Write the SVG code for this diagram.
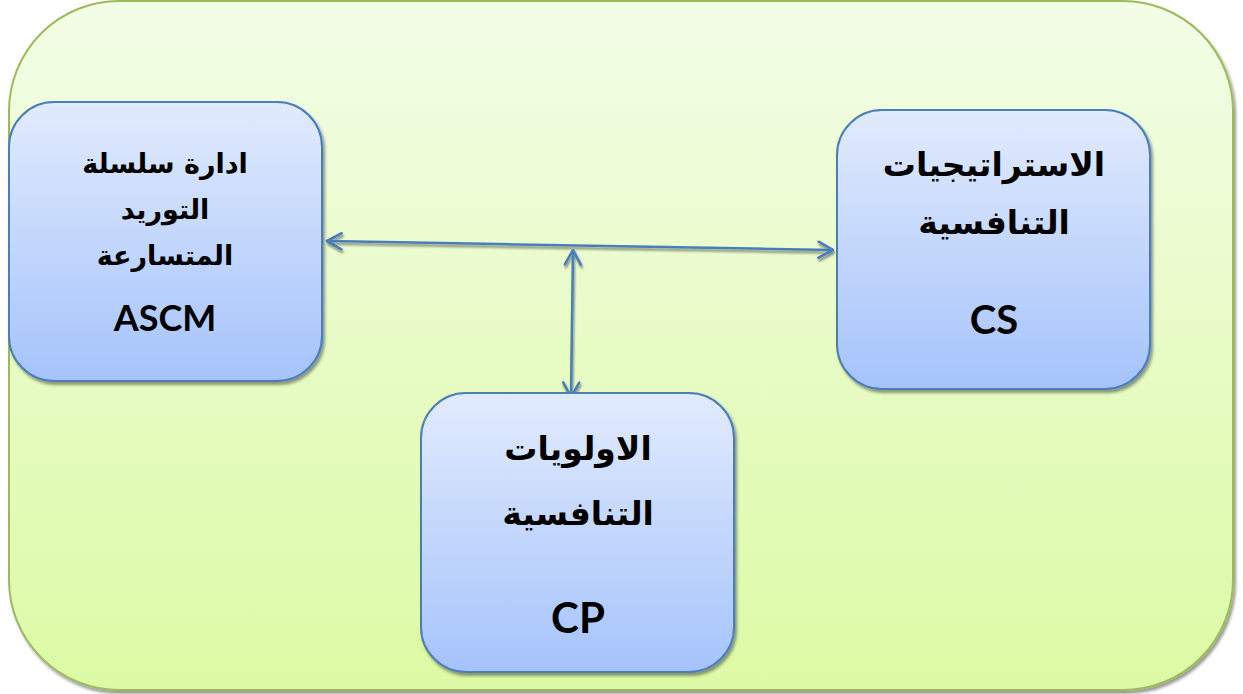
<svg xmlns="http://www.w3.org/2000/svg" width="1243" height="694" viewBox="0 0 1243 694">
  <defs>
    <linearGradient id="bgGrad" x1="0" y1="0" x2="0" y2="1">
      <stop offset="0" stop-color="#f3fde7"/>
      <stop offset="1" stop-color="#dcfaa4"/>
    </linearGradient>
    <linearGradient id="boxGrad" x1="0" y1="0" x2="0" y2="1">
      <stop offset="0" stop-color="#e1ebfd"/>
      <stop offset="1" stop-color="#a5c3fb"/>
    </linearGradient>
    <filter id="shadow" x="-10%" y="-10%" width="125%" height="125%">
      <feDropShadow dx="2" dy="3" stdDeviation="1.5" flood-color="#000" flood-opacity="0.4"/>
    </filter>
    <filter id="lineShadow" x="-5%" y="-50%" width="110%" height="200%">
      <feDropShadow dx="1" dy="2.5" stdDeviation="0.8" flood-color="#000" flood-opacity="0.45"/>
    </filter>
    <marker id="chev" viewBox="0 0 18 20" refX="16.5" refY="10" markerWidth="18" markerHeight="20" markerUnits="userSpaceOnUse" orient="auto-start-reverse">
      <path d="M2 2 L16.5 10 L2 18" fill="none" stroke="#4a7ebb" stroke-width="2.6" stroke-linecap="round" stroke-linejoin="round"/>
    </marker>
    <style>
      .box { fill: url(#boxGrad); stroke: #4a7ebb; stroke-width: 2; filter: url(#shadow); }
      .ar { font-family: "DejaVu Sans", sans-serif; font-weight: bold; fill: #000; text-anchor: middle; direction: rtl; }
      .lat { font-family: Lato, "Open Sans", sans-serif; font-weight: bold; fill: #000; text-anchor: middle; }
      .conn { stroke: #4a7ebb; stroke-width: 2.5; fill: none; marker-start: url(#chev); marker-end: url(#chev); }
    </style>
  </defs>

  <!-- outer container -->
  <rect x="9" y="1" width="1224" height="689" rx="110" ry="110" fill="url(#bgGrad)" stroke="#9bbb59" stroke-width="2" filter="url(#shadow)"/>

  <!-- connectors -->
  <g id="connectors" filter="url(#lineShadow)">
    <line class="conn" x1="327" y1="241" x2="833" y2="250"/>
    <line class="conn" x1="573" y1="250" x2="571" y2="397"/>
  </g>

  <g id="node-ascm">
    <rect class="box" x="9" y="102" width="313" height="279" rx="45" ry="45"/>
    <text class="ar" x="165" y="173" font-size="27">ادارة سلسلة</text>
    <text class="ar" x="165" y="219" font-size="27">التوريد</text>
    <text class="ar" x="165" y="265" font-size="27">المتسارعة</text>
    <text class="lat" x="165" y="331" font-size="36">ASCM</text>
  </g>

  <g id="node-cs">
    <rect class="box" x="837" y="110" width="313" height="279" rx="45" ry="45"/>
    <text class="ar" x="994" y="176" font-size="33">الاستراتيجيات</text>
    <text class="ar" x="994" y="234" font-size="33">التنافسية</text>
    <text class="lat" x="994" y="334" font-size="40">CS</text>
  </g>

  <g id="node-cp">
    <rect class="box" x="421" y="393" width="313" height="279" rx="45" ry="45"/>
    <text class="ar" x="578" y="460" font-size="33">الاولويات</text>
    <text class="ar" x="578" y="525" font-size="33">التنافسية</text>
    <text class="lat" x="578" y="633" font-size="42">CP</text>
  </g>
</svg>
